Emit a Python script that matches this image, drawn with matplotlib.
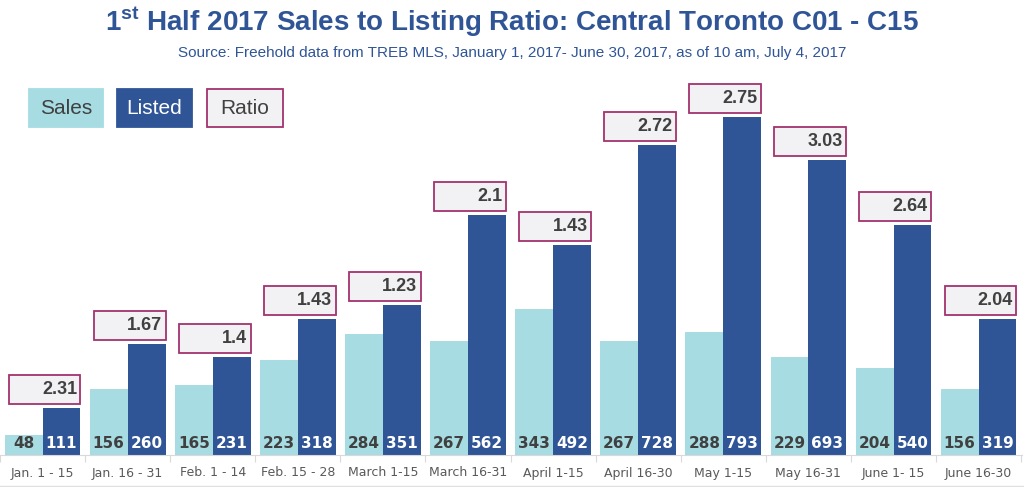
import numpy as np
import matplotlib
matplotlib.use('Agg')
import matplotlib.pyplot as plt
from matplotlib.patches import Rectangle

periods = ['Jan. 1 - 15', 'Jan. 16 - 31', 'Feb. 1 - 14', 'Feb. 15 - 28', 'March 1-15',
           'March 16-31', 'April 1-15', 'April 16-30', 'May 1-15', 'May 16-31',
           'June 1- 15', 'June 16-30']
sales = [48, 156, 165, 223, 284, 267, 343, 267, 288, 229, 204, 156]
listed = [111, 260, 231, 318, 351, 562, 492, 728, 793, 693, 540, 319]
ratio = ['2.31', '1.67', '1.4', '1.43', '1.23', '2.1', '1.43', '2.72', '2.75', '3.03', '2.64', '2.04']

c_sales = '#a6dce2'
c_listed = '#2f5597'
c_box = '#f2f2f4'
c_edge = '#a3336f'
c_title = '#2f5597'

plt.rcParams['font.family'] = ['Liberation Sans', 'DejaVu Sans']

fig = plt.figure(figsize=(10.24, 4.87), dpi=100)
W, H = 1024, 487
ax = fig.add_axes([0, 32 / H, 1022 / W, 370 / H])

x = np.arange(len(periods))
bw = 0.445
ax.bar(x - bw / 2, sales, bw, color=c_sales)
ax.bar(x + bw / 2, listed, bw, color=c_listed)
ax.set_xlim(-0.47, 11.51)
ax.set_ylim(0, 868)

# px -> data units on y
upp = 868 / 370.0

for i in range(len(x)):
    ax.text(x[i] - bw / 2, 12 * upp, str(sales[i]), ha='center', va='center',
            fontsize=11, fontweight='bold', color='#404040', family='DejaVu Sans')
    ax.text(x[i] + bw / 2, 12 * upp, str(listed[i]), ha='center', va='center',
            fontsize=11, fontweight='bold', color='white', family='DejaVu Sans')
    # ratio box above listed bar
    b0 = listed[i] + 4 * upp
    bh = 29 * upp
    ax.add_patch(Rectangle((x[i] - 0.4, b0), 0.845, bh, facecolor=c_box,
                           edgecolor=c_edge, linewidth=1.3, clip_on=False))
    ax.text(x[i] + 0.405, b0 + bh / 2, ratio[i], ha='right', va='center',
            fontsize=13, fontweight='bold', color='#404040')

for s in ['top', 'right', 'left']:
    ax.spines[s].set_visible(False)
ax.spines['bottom'].set_color('#d9d9d9')
ax.set_yticks([])
ax.set_xticks(np.arange(-0.5, 12, 1))
ax.set_xticklabels([])
ax.tick_params(axis='x', length=5, color='#d9d9d9')
for i, p in enumerate(periods):
    ax.text(x[i], -18 * upp, p, ha='center', va='center', fontsize=9,
            color='#595959', family='DejaVu Sans')

# bottom border line
fig.add_artist(plt.Line2D([0, 1], [1.5 / H, 1.5 / H], color='#e0e0e0', lw=1))

# title
fig.text(0.5, 1 - 22 / H, r'1$^{\mathregular{st}}$ Half 2017 Sales to Listing Ratio: Central Toronto C01 - C15',
         ha='center', va='center', fontsize=20, fontweight='bold', color=c_title)
fig.text(0.5, 1 - 53 / H, 'Source: Freehold data from TREB MLS, January 1, 2017- June 30, 2017, as of 10 am, July 4, 2017',
         ha='center', va='center', fontsize=11, color=c_title)

# legend boxes
leg = [('Sales', 29, 103, c_sales, c_sales, '#404040'),
       ('Listed', 117, 192, c_listed, c_listed, 'white'),
       ('Ratio', 207, 283, c_box, c_edge, '#404040')]
for lab, x0, x1, fc, ec, tc in leg:
    fig.add_artist(Rectangle((x0 / W, 1 - 127 / H), (x1 - x0) / W, 38 / H,
                             facecolor=fc, edgecolor=ec, lw=1.3,
                             transform=fig.transFigure))
    fig.text((x0 + x1) / 2 / W, 1 - 108 / H, lab, ha='center', va='center',
             fontsize=15, color=tc)

fig.savefig('out.png', dpi=100)
